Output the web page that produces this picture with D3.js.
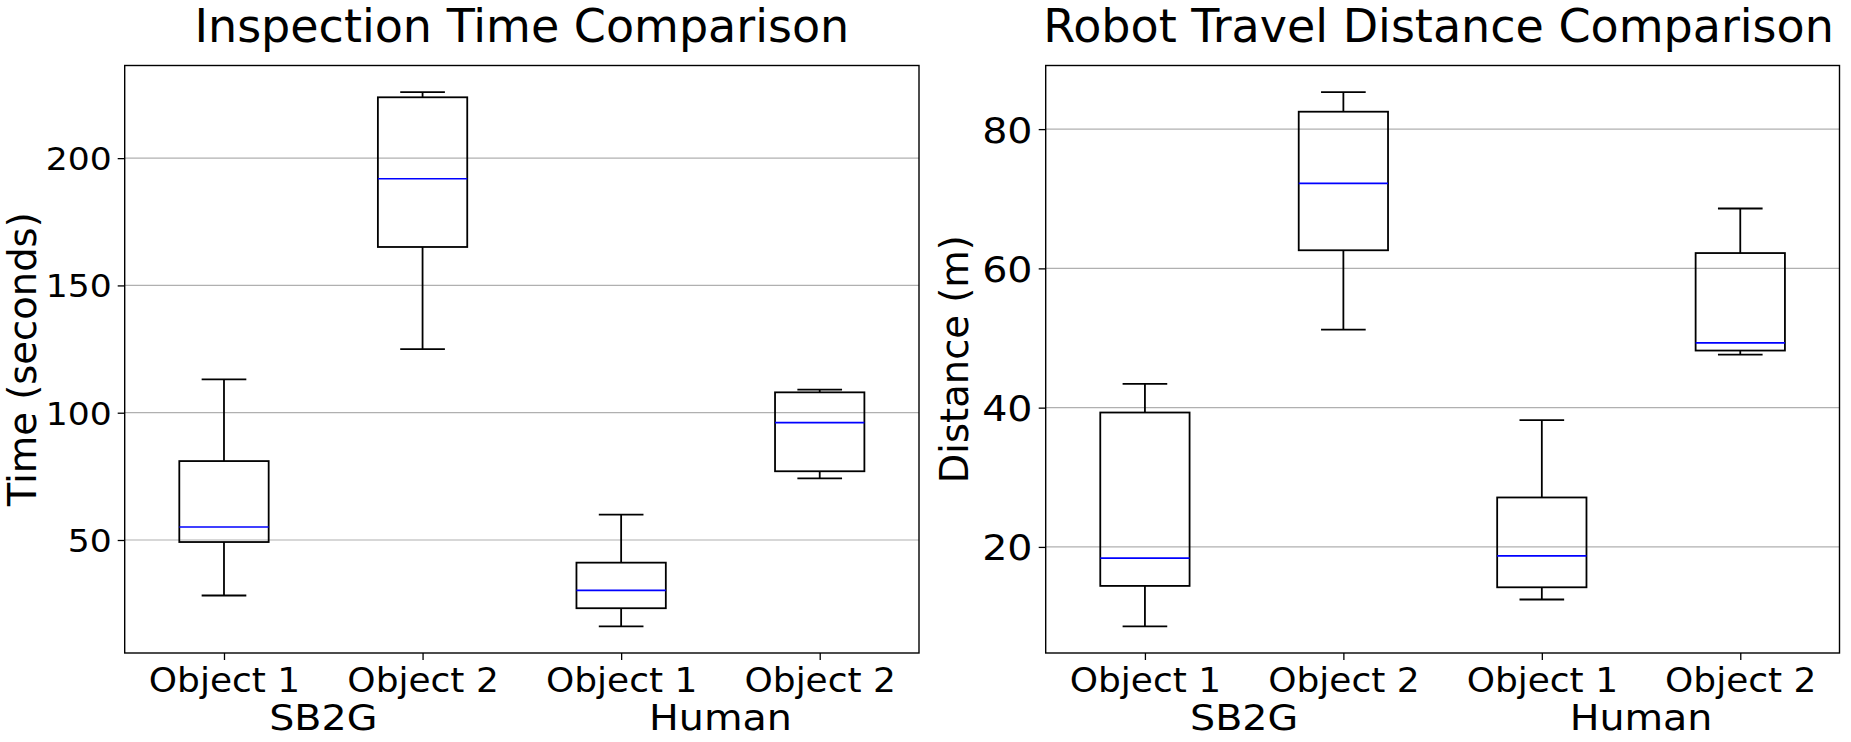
<!DOCTYPE html>
<html>
<head>
<meta charset="utf-8">
<script src="https://cdn.jsdelivr.net/npm/d3@7"></script>
<style>
  html, body { margin: 0; padding: 0; background: #ffffff; }
  svg { display: block; font-family: "DejaVu Sans", sans-serif; }
</style>
</head>
<body>
<svg id="chart" width="1851" height="742"></svg>
<script>
// ---------------- data ----------------
const categories = ["Object 1", "Object 2", "Object 1", "Object 2"];
const groups = ["SB2G", "Human"];

// Inspection time (seconds): whisker low, Q1, median, Q3, whisker high
const timeLow  = [28.2, 125.0, 16.1, 74.2];
const timeQ1   = [49.2, 165.1, 23.2, 77.0];
const timeMed  = [55.1, 191.9, 30.2, 96.1];
const timeQ3   = [81.0, 223.9, 41.1, 108.0];
const timeHigh = [113.1, 225.9, 60.0, 109.1];
const timeTicks = [50, 100, 150, 200];

// Robot travel distance (m)
const distLow  = [8.6, 51.2, 12.45, 47.6];
const distQ1   = [14.4, 62.6, 14.2, 48.2];
const distMed  = [18.4, 72.2, 18.7, 49.3];
const distQ3   = [39.3, 82.5, 27.1, 62.2];
const distHigh = [43.4, 85.3, 38.2, 68.6];
const distTicks = [20, 40, 60, 80];

const titles = ["Inspection Time Comparison", "Robot Travel Distance Comparison"];
const yLabels = ["Time (seconds)", "Distance (m)"];

// ---------------- layout ----------------
(function () {
const svg = d3.select("#chart");
svg.append("rect").attr("width", 1851).attr("height", 742).attr("fill", "#fff");

const panels = [
  { title: titles[0], ylabel: yLabels[0], low: timeLow, q1: timeQ1, med: timeMed, q3: timeQ3, high: timeHigh,
    ticks: timeTicks, left: 124.7, right: 919, ylabX: 35.5, tickFs: 32, tickSx: 1.08, titleDx: 0 },
  { title: titles[1], ylabel: yLabels[1], low: distLow, q1: distQ1, med: distMed, q3: distQ3, high: distHigh,
    ticks: distTicks, left: 1045.7, right: 1839.5, ylabX: 968, tickFs: 36, tickSx: 1.1, titleDx: -4 }
];
const plotTop = 65.5, plotBottom = 653;

panels.forEach(p => {
  const g = svg.append("g");
  const x = d3.scaleLinear().domain([0.5, 4.5]).range([p.left, p.right]);
  const dmin = d3.min(p.low), dmax = d3.max(p.high), m = (dmax - dmin) * 0.05;
  const y = d3.scaleLinear().domain([dmin - m, dmax + m]).range([plotBottom, plotTop]);

  // grid
  g.append("g").selectAll("line").data(p.ticks).join("line")
    .attr("x1", p.left).attr("x2", p.right)
    .attr("y1", d => y(d)).attr("y2", d => y(d))
    .attr("stroke", "#b0b0b0").attr("stroke-width", 1.2);

  // y axis
  const ya = g.append("g").attr("transform", `translate(${p.left},0)`)
    .call(d3.axisLeft(y).tickValues(p.ticks).tickSize(7).tickSizeOuter(0).tickPadding(5).tickFormat(d3.format("d")));
  ya.select(".domain").remove();
  ya.selectAll(".tick line").attr("stroke", "#000").attr("stroke-width", 1.3);
  ya.selectAll(".tick text").attr("font-size", p.tickFs).attr("fill", "#000")
    .attr("font-family", "DejaVu Sans").attr("dy", "0.36em")
    .attr("transform", `scale(${p.tickSx},1)`);

  // x axis
  const xa = g.append("g").attr("transform", `translate(0,${plotBottom})`)
    .call(d3.axisBottom(x).tickValues([1, 2, 3, 4]).tickSize(7).tickSizeOuter(0)
      .tickFormat(d => categories[d - 1]));
  xa.select(".domain").remove();
  xa.selectAll(".tick line").attr("stroke", "#000").attr("stroke-width", 1.3);
  xa.selectAll(".tick text").attr("font-size", 33).attr("fill", "#000")
    .attr("font-family", "DejaVu Sans").attr("y", 39.5).attr("dy", null)
    .attr("transform", "scale(1.09,1)");

  // group labels
  g.append("g").selectAll("text").data(groups).join("text")
    .attr("transform", (d, i) => `translate(${x(1.5 + 2 * i)},730) scale(1.1,1)`)
    .attr("text-anchor", "middle").attr("font-size", 36).attr("fill", "#000")
    .text(d => d);

  // boxes
  const hw = x(1 + 0.225) - x(1);
  const idx = d3.range(categories.length);
  const bx = g.append("g").attr("fill", "none").attr("stroke", "#000").attr("stroke-width", 1.8);
  idx.forEach(i => {
    const cx = x(i + 1);
    bx.append("line").attr("x1", cx).attr("x2", cx).attr("y1", y(p.q3[i])).attr("y2", y(p.high[i]));
    bx.append("line").attr("x1", cx).attr("x2", cx).attr("y1", y(p.q1[i])).attr("y2", y(p.low[i]));
    bx.append("line").attr("x1", cx - hw / 2).attr("x2", cx + hw / 2).attr("y1", y(p.high[i])).attr("y2", y(p.high[i]));
    bx.append("line").attr("x1", cx - hw / 2).attr("x2", cx + hw / 2).attr("y1", y(p.low[i])).attr("y2", y(p.low[i]));
    bx.append("rect").attr("x", cx - hw).attr("width", 2 * hw)
      .attr("y", y(p.q3[i])).attr("height", y(p.q1[i]) - y(p.q3[i]));
    bx.append("line").attr("x1", cx - hw).attr("x2", cx + hw)
      .attr("y1", y(p.med[i])).attr("y2", y(p.med[i]))
      .attr("stroke", "#0000ff").attr("stroke-width", 1.7);
  });

  // frame
  g.append("rect").attr("x", p.left).attr("y", plotTop)
    .attr("width", p.right - p.left).attr("height", plotBottom - plotTop)
    .attr("fill", "none").attr("stroke", "#000").attr("stroke-width", 1.4);

  // title
  g.append("text").attr("x", (p.left + p.right) / 2 + p.titleDx).attr("y", 42)
    .attr("text-anchor", "middle").attr("font-size", 46).attr("fill", "#000")
    .text(p.title);

  // y label
  g.append("text").attr("transform", `translate(${p.ylabX},${(plotTop + plotBottom) / 2}) rotate(-90)`)
    .attr("text-anchor", "middle").attr("font-size", 38.5).attr("fill", "#000")
    .text(p.ylabel);
});
})();
</script>
</body>
</html>
